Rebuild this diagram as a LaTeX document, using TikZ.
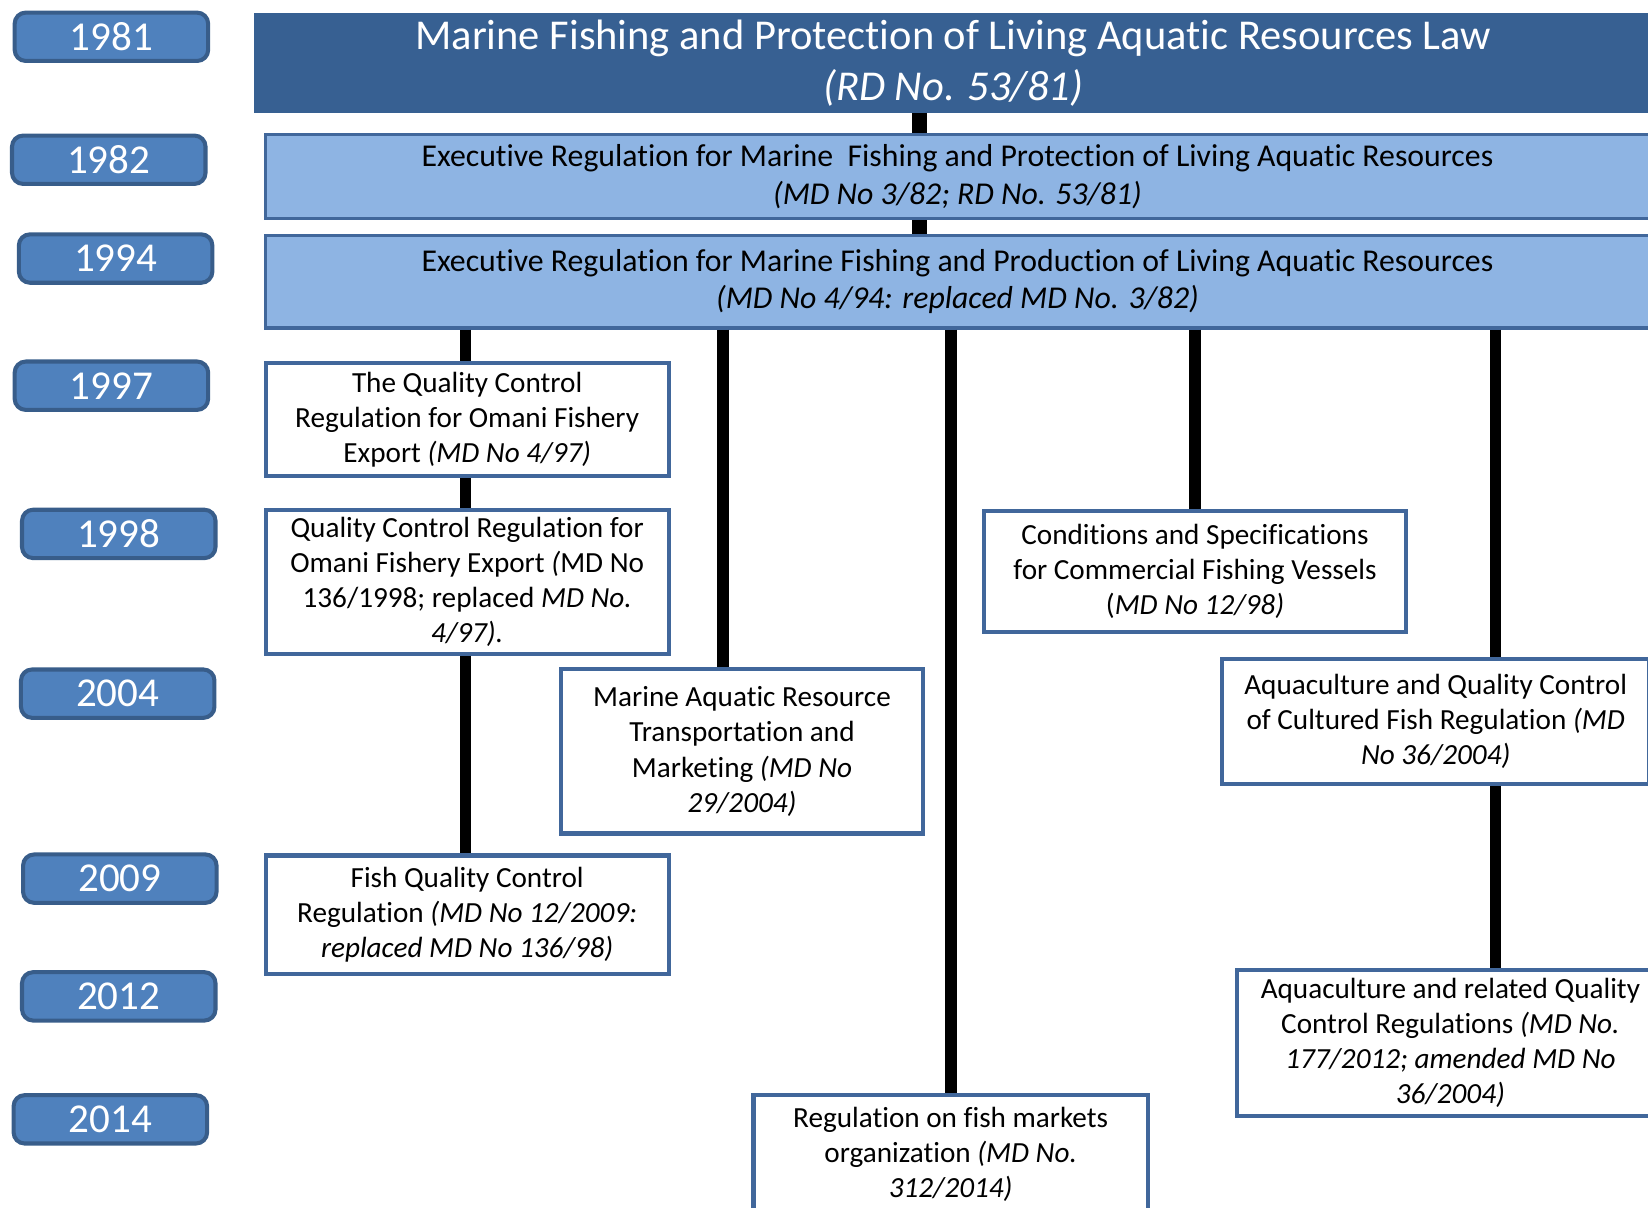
\documentclass[tikz,border=0pt]{standalone}
\usepackage{fontspec}
\setmainfont[Ligatures=NoCommon]{Carlito}
\usepackage{xcolor}
\usepackage{tikz}
\definecolor{yearblue}{HTML}{4F81BD}
\definecolor{yearedge}{HTML}{385D8A}
\definecolor{lawblue}{HTML}{376092}
\definecolor{execblue}{HTML}{8EB4E3}
\definecolor{boxedge}{HTML}{41679B}

\begin{document}
\begin{tikzpicture}[x=0.01cm, y=-0.01cm,
    year/.style={draw=yearedge, line width=1.1pt, fill=yearblue, rounded corners=3pt,
      minimum width=1.84cm, minimum height=0.46cm, inner sep=0pt, text=white,
      font=\fontsize{11.1}{13}\selectfont},
    law/.style={draw=lawblue, fill=lawblue, text=white, align=center, inner sep=0pt,
      font=\fontsize{11.5}{13.7}\selectfont},
    exec/.style={draw=boxedge, line width=0.9pt, fill=execblue, align=center, inner sep=0pt,
      font=\fontsize{8.6}{10.2}\selectfont},
    reg/.style={draw=boxedge, line width=1.1pt, fill=white, align=center, inner sep=0pt,
      font=\fontsize{7.9}{9.5}\selectfont},
    trunk/.style={line width=4pt},
    link/.style={line width=3.1pt}]
      \useasboundingbox (0,0) rectangle (1568,1149);
      \clip (0,0) rectangle (1568,1149);
      \node[year] (y81) at (106,35) {1981};
      \node[year] (y82) at (103.5,152) {1982};
      \node[year] (y94) at (110,246) {1994};
      \node[year] (y97) at (106,367) {1997};
      \node[year] (y98) at (113,508) {1998};
      \node[year] (y04) at (112,660) {2004};
      \node[year] (y09) at (114,836) {2009};
      \node[year] (y12) at (113,948) {2012};
      \node[year] (y14) at (105,1065) {2014};
      \node[law, minimum width=13.28cm, minimum height=0.94cm] (law81) at (907,60)
        {Marine Fishing and Protection of Living Aquatic Resources Law\\ \textit{(RD No. 53/81)}};
      \node[exec, minimum width=13.16cm, minimum height=0.80cm] (exec82) at (911,168)
        {Executive Regulation for Marine\ \ Fishing and Protection of Living Aquatic Resources\\ \textit{(MD No 3/82; RD No. 53/81)}};
      \node[exec, minimum width=13.16cm, minimum height=0.88cm] (exec94) at (911,268)
        {Executive Regulation for Marine Fishing and Production of Living Aquatic Resources\\ \textit{(MD No 4/94: replaced MD No. 3/82)}};
      \node[reg, minimum width=3.83cm, minimum height=1.08cm] (q97) at (444.5,399)
        {The Quality Control\\ Regulation for Omani Fishery\\ Export \textit{(MD No 4/97)}};
      \node[reg, minimum width=3.83cm, minimum height=1.37cm] (q98) at (444.5,553.5)
        {Quality Control Regulation for\\ Omani Fishery Export \textit{(}MD No\\ 136/1998; replaced \textit{MD No.}\\ \textit{4/97).}};
      \node[reg, minimum width=3.44cm, minimum height=1.56cm] (mar04) at (706,715)
        {Marine Aquatic Resource\\ Transportation and\\ Marketing \textit{(MD No}\\ \textit{29/2004)}};
      \node[reg, minimum width=4.02cm, minimum height=1.15cm] (ves98) at (1137,543.5)
        {Conditions and Specifications\\ for Commercial Fishing Vessels\\ (\textit{MD No 12/98)}};
      \node[reg, minimum width=4.06cm, minimum height=1.19cm] (aq04) at (1366,686.5)
        {Aquaculture and Quality Control\\ of Cultured Fish Regulation \textit{(MD}\\ \textit{No 36/2004)}};
      \node[reg, minimum width=3.83cm, minimum height=1.13cm] (fq09) at (444.5,870.5)
        {Fish Quality Control\\ Regulation \textit{(MD No 12/2009:}\\ \textit{replaced MD No 136/98)}};
      \node[reg, minimum width=4.06cm, minimum height=1.39cm] (aq12) at (1380,992.5)
        {Aquaculture and related Quality\\ Control Regulations \textit{(MD No.}\\ \textit{177/2012; amended MD No}\\ \textit{36/2004)}};
      \node[reg, minimum width=3.75cm, minimum height=1.13cm] (mkt14) at (904.5,1098.5)
        {Regulation on fish markets\\ organization \textit{(MD No.}\\ \textit{312/2014)}};
      \coordinate (spine) at (875,0);
      \coordinate (b1) at (443,0);
      \coordinate (b2) at (688,0);
      \coordinate (b3) at (905,0);
      \coordinate (b4) at (1137,0);
      \coordinate (b5) at (1423,0);
      \draw[trunk] (spine |- law81.south) -- (spine |- exec82.north);
      \draw[trunk] (spine |- exec82.south) -- (spine |- exec94.north);
      \draw[link] (b1 |- exec94.south) -- (b1 |- q97.north);
      \draw[link] (b1 |- q97.south) -- (b1 |- q98.north);
      \draw[link] (b1 |- q98.south) -- (b1 |- fq09.north);
      \draw[link] (b2 |- exec94.south) -- (b2 |- mar04.north);
      \draw[link] (b3 |- exec94.south) -- (b3 |- mkt14.north);
      \draw[link] (b4 |- exec94.south) -- (b4 |- ves98.north);
      \draw[link] (b5 |- exec94.south) -- (b5 |- aq04.north);
      \draw[link] (b5 |- aq04.south) -- (b5 |- aq12.north);
    \end{tikzpicture}
\end{document}
